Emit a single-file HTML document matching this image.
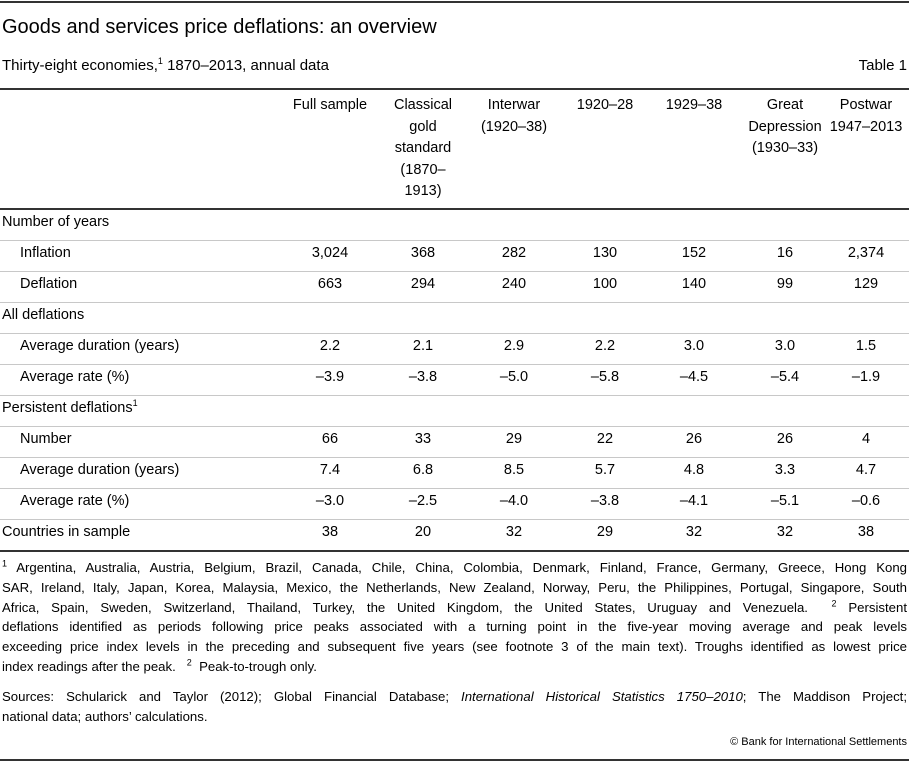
<!DOCTYPE html>
<html><head><meta charset="utf-8"><style>
body{margin:0;width:909px;height:762px;background:#fff;font-family:"Liberation Sans",sans-serif;color:#000;position:relative;overflow:hidden}
.a{position:absolute;white-space:nowrap}
.hl{position:absolute;left:0;width:909px}
.dk{height:2px;background:#333}
.lt{height:1px;background:#c8c8c8}
.c{position:absolute;text-align:center;font-size:14.5px;line-height:21.5px;width:90px}
.lab{position:absolute;font-size:14.5px;left:2px}
.sub{left:20px}
.fn{position:absolute;left:2px;width:905px;font-size:13.2px;line-height:19.8px}
.fn div{white-space:nowrap;text-align:justify;text-align-last:justify;height:19.8px}
.fn div.last{text-align-last:left}
sup{font-size:9px;line-height:0}
</style></head><body>
<div class="hl dk" style="top:1px"></div>
<div class="a" style="left:2px;top:16px;font-size:20px">Goods and services price deflations: an overview</div>
<div class="a" style="left:2px;top:57px;font-size:15px">Thirty-eight economies,<sup>1</sup> 1870–2013, annual data</div>
<div class="a" style="right:2px;top:57px;font-size:15px">Table 1</div>
<div class="hl dk" style="top:88px"></div>
<div id="hdr"></div>
<div class="hl dk" style="top:208px"></div>
<div id="body"></div>
<div class="hl dk" style="top:550px"></div>
<div class="fn" style="top:558px">
<div><sup>1</sup> Argentina, Australia, Austria, Belgium, Brazil, Canada, Chile, China, Colombia, Denmark, Finland, France, Germany, Greece, Hong Kong</div>
<div>SAR, Ireland, Italy, Japan, Korea, Malaysia, Mexico, the Netherlands, New Zealand, Norway, Peru, the Philippines, Portugal, Singapore, South</div>
<div>Africa, Spain, Sweden, Switzerland, Thailand, Turkey, the United Kingdom, the United States, Uruguay and Venezuela. &nbsp;<sup>2</sup> Persistent</div>
<div>deflations identified as periods following price peaks associated with a turning point in the five-year moving average and peak levels</div>
<div>exceeding price index levels in the preceding and subsequent five years (see footnote 3 of the main text). Troughs identified as lowest price</div>
<div class="last">index readings after the peak. &nbsp; <sup>2</sup> &nbsp;Peak-to-trough only.</div>
</div>
<div class="fn" style="top:687px">
<div>Sources: Schularick and Taylor (2012); Global Financial Database; <i>International Historical Statistics 1750–2010</i>; The Maddison Project;</div>
<div class="last">national data; authors’ calculations.</div>
</div>
<div class="a" style="right:2px;top:736px;font-size:11px">© Bank for International Settlements</div>
<div class="hl dk" style="top:759px"></div>
<script>
const colCenters=[330,423,514,605,694,785,866];
const headers=[["Full sample"],["Classical","gold","standard","(1870–","1913)"],["Interwar","(1920–38)"],["1920–28"],["1929–38"],["Great","Depression","(1930–33)"],["Postwar","1947–2013"]];
const rows=[
["Number of years",0,null],
["Inflation",1,["3,024","368","282","130","152","16","2,374"]],
["Deflation",1,["663","294","240","100","140","99","129"]],
["All deflations",0,null],
["Average duration (years)",1,["2.2","2.1","2.9","2.2","3.0","3.0","1.5"]],
["Average rate (%)",1,["–3.9","–3.8","–5.0","–5.8","–4.5","–5.4","–1.9"]],
["Persistent deflations<sup>1</sup>",0,null],
["Number",1,["66","33","29","22","26","26","4"]],
["Average duration (years)",1,["7.4","6.8","8.5","5.7","4.8","3.3","4.7"]],
["Average rate (%)",1,["–3.0","–2.5","–4.0","–3.8","–4.1","–5.1","–0.6"]],
["Countries in sample",0,["38","20","32","29","32","32","38"]]
];
const hdr=document.getElementById('hdr');
headers.forEach((h,i)=>{const d=document.createElement('div');d.className='c';


d.style.left=(colCenters[i]-45)+'px';d.style.top='95px';d.innerHTML=h.join('<br>');hdr.appendChild(d);});
const body=document.getElementById('body');
rows.forEach((r,k)=>{const top=214+k*31;
const l=document.createElement('div');l.className='lab'+(r[1]?' sub':'');


l.style.top=top+'px';l.innerHTML=r[0];body.appendChild(l);
if(r[2])r[2].forEach((v,i)=>{const c=document.createElement('div');c.className='c';


c.style.left=(colCenters[i]-45)+'px';c.style.top=(top-2)+'px';c.textContent=v;body.appendChild(c);});
if(k<rows.length-1){const ln=document.createElement('div');ln.className='hl lt';


ln.style.top=(240+k*31)+'px';body.appendChild(ln);}
});
</script>
</body></html>
